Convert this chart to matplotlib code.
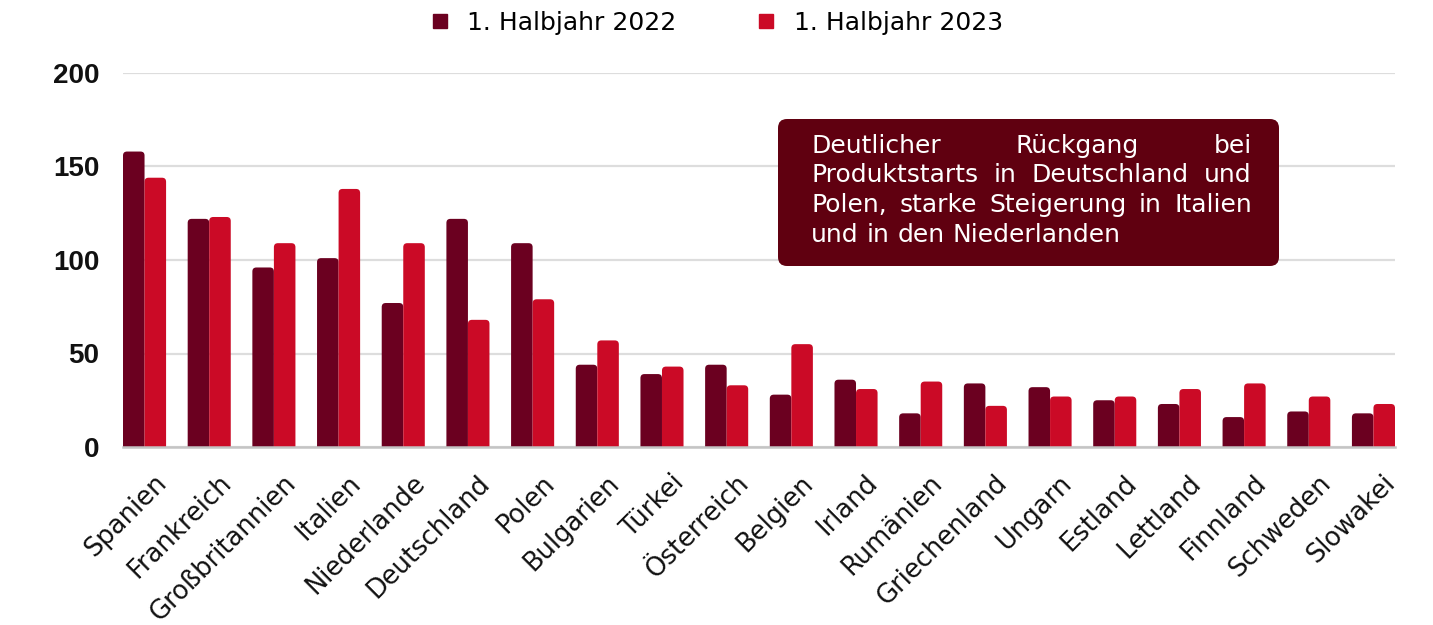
import matplotlib
matplotlib.use('Agg')
import matplotlib.pyplot as plt
import matplotlib.transforms as mtransforms
from matplotlib.patches import FancyBboxPatch
from matplotlib.lines import Line2D
import numpy as np

countries = ['Spanien', 'Frankreich', 'Großbritannien', 'Italien', 'Niederlande',
             'Deutschland', 'Polen', 'Bulgarien', 'Türkei', 'Österreich', 'Belgien',
             'Irland', 'Rumänien', 'Griechenland', 'Ungarn', 'Estland', 'Lettland',
             'Finnland', 'Schweden', 'Slowakei']
h1_2022 = [158, 122, 96, 101, 77, 122, 109, 44, 39, 44, 28, 36, 18, 34, 32, 25, 23, 16, 19, 18]
h1_2023 = [144, 123, 109, 138, 109, 68, 79, 57, 43, 33, 55, 31, 35, 22, 27, 27, 31, 34, 27, 23]
series_labels = ['1. Halbjahr 2022', '1. Halbjahr 2023']
yticks = [0, 50, 100, 150, 200]
note_lines = ['Deutlicher Rückgang bei',
              'Produktstarts in Deutschland und',
              'Polen, starke Steigerung in Italien',
              'und in den Niederlanden']

C1 = '#6B0020'
C2 = '#CB0A26'
BOX = '#600010'
LBL_FONT = 'DejaVu Sans'

W, H = 1433, 625
fig = plt.figure(figsize=(W / 100, H / 100), dpi=100)
ax = fig.add_axes([123 / W, 1 - 447 / H, 1272 / W, 374 / H])

x = np.arange(len(countries))
bw = 0.333
ax.set_xlim(-bw, len(countries) - 1 + bw)
ax.set_ylim(0, 200)

bars1 = ax.bar(x - bw / 2, h1_2022, bw, color=C1, zorder=3)
bars2 = ax.bar(x + bw / 2, h1_2023, bw, color=C2, zorder=3)

# rounded top corners
px_per_x = 1272 / (len(countries) - 1 + 2 * bw)
px_per_y = 374 / 200
r_px = 4.0
rx = r_px / px_per_x
ry = r_px / px_per_y
for b in list(bars1) + list(bars2):
    b.set_visible(False)
    p = FancyBboxPatch((b.get_x(), -ry * 2), b.get_width(), b.get_height() + ry * 2,
                       boxstyle=f"round,pad=0,rounding_size={rx}",
                       mutation_aspect=ry / rx, facecolor=b.get_facecolor(),
                       edgecolor='none', zorder=3)
    ax.add_patch(p)

for s in ax.spines.values():
    s.set_visible(False)
ax.set_yticks(yticks)
ax.set_yticklabels([str(v) for v in yticks], fontsize=20, fontweight='bold',
                   family='Liberation Sans', color='#111111')
ax.yaxis.grid(True, color='#dddddd', lw=1.6, zorder=0)
ax.set_axisbelow(True)
ax.axhline(0, color='#c4c4c4', lw=1.8, zorder=4, clip_on=False)
ax.tick_params(axis='y', length=0, pad=17)

ax.set_xticks(x)
ax.set_xticklabels(countries, rotation=45, ha='right', va='top',
                   rotation_mode='anchor', fontsize=18.5, family=LBL_FONT, color='#111111')
ax.tick_params(axis='x', length=0, pad=0)
off = mtransforms.ScaledTranslation(9 / 100, -23 / 100, fig.dpi_scale_trans)
for lbl in ax.get_xticklabels():
    lbl.set_transform(lbl.get_transform() + off)

# legend
handles = [Line2D([], [], marker='s', linestyle='', color=C1, markersize=10.5),
           Line2D([], [], marker='s', linestyle='', color=C2, markersize=10.5)]
fig.legend(handles, series_labels, loc='center', bbox_to_anchor=(0.5007, 1 - 23 / H),
           ncol=2, frameon=False, handlelength=0.6, handletextpad=0.8,
           columnspacing=3.3, prop={'family': LBL_FONT, 'size': 18})

# annotation box
aspect = W / H
box = FancyBboxPatch((778 / W, 1 - 266 / H), 501 / W, 147 / H,
                     boxstyle=f"round,pad=0,rounding_size={9 / W}",
                     mutation_aspect=aspect, transform=fig.transFigure,
                     facecolor=BOX, edgecolor='none', zorder=5)
fig.patches.append(box)

renderer = fig.canvas.get_renderer()
left_px, right_px = 811, 1252
baselines = [153, 182, 212, 242]
tkw = dict(family=LBL_FONT, size=18, color='white', va='baseline', ha='left', zorder=6)
space_t = fig.text(0, 0, 'a a', **tkw)
aa = fig.text(0, 0, 'aa', **tkw)
space_w = space_t.get_window_extent(renderer).width - aa.get_window_extent(renderer).width
space_t.remove()
aa.remove()
for i, line in enumerate(note_lines):
    words = line.split(' ')
    ts = [fig.text(0, 1 - baselines[i] / H, w, **tkw) for w in words]
    widths = [t.get_window_extent(renderer).width for t in ts]
    if i < len(note_lines) - 1 and len(words) > 1:
        gap = (right_px - left_px - sum(widths)) / (len(words) - 1)
    else:
        gap = space_w
    xpos = left_px
    for t, w in zip(ts, widths):
        t.set_x(xpos / W)
        xpos += w + gap

fig.savefig('out.png', dpi=100)
